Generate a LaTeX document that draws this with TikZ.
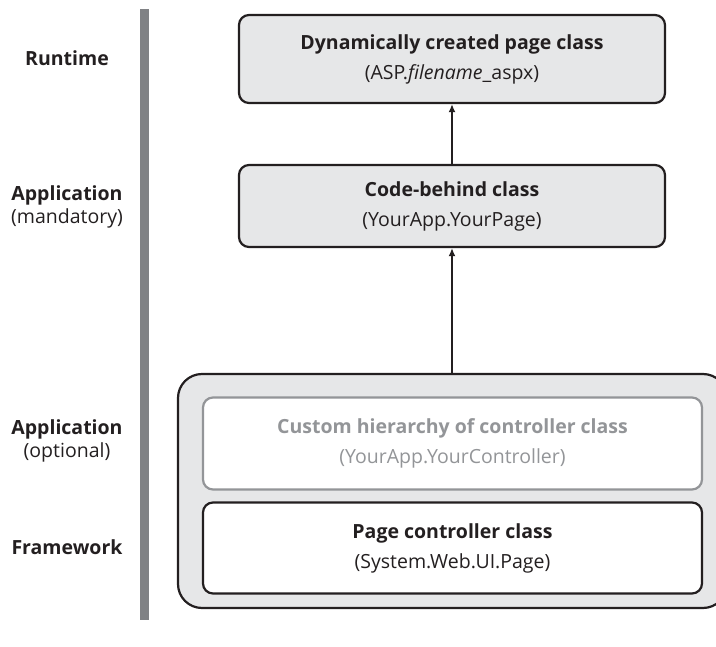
\documentclass[tikz,border=0pt]{standalone}
\usepackage{fontspec}
\setmainfont{Open Sans}
\usetikzlibrary{arrows.meta}
\definecolor{boxgray}{HTML}{E6E7E8}
\definecolor{bargray}{HTML}{808285}
\definecolor{softgray}{HTML}{939598}
\definecolor{ink}{HTML}{231F20}
\tikzset{
  classbox/.style={draw=ink, line width=2.2pt, rounded corners=10pt, inner sep=0pt,
    align=center, text=ink, font=\fontsize{19.5}{30}\selectfont},
  layerlabel/.style={align=center, text=ink, font=\fontsize{19.5}{23}\selectfont},
  inherit/.style={draw=ink, line width=2pt, -{Latex[length=8pt,width=7pt]}}
}
\begin{document}
\begin{tikzpicture}[scale=1.000000,x=1pt,y=-1pt]
\useasboundingbox (0,0) rectangle (716,647);
\clip (0,0) rectangle (716,647);
% Drawing the layer bar and labels
\fill[bargray] (140,9) rectangle (149,620);
\node[layerlabel] (lblruntime) at (67,58) {\textbf{Runtime}};
\node[layerlabel] (lblmandatory) at (67,207) {\textbf{Application}\\(mandatory)};
\node[layerlabel] (lbloptional) at (67,441) {\textbf{Application}\\(optional)};
\node[layerlabel] (lblframework) at (67,547) {\textbf{Framework}};
% Done with labels; drawing class boxes
\node[classbox, fill=boxgray, rounded corners=24pt, minimum width=549pt, minimum height=234pt] (container) at (452.5,491) {};
\node[classbox, fill=white, draw=softgray, text=softgray, minimum width=499pt, minimum height=92pt] (custom) at (452.5,443.5) {\textbf{Custom hierarchy of controller class}\\(YourApp.YourController)};
\node[classbox, fill=white, minimum width=499pt, minimum height=91pt] (pagectrl) at (452.5,548) {\textbf{Page controller class}\\(System.Web.UI.Page)};
\node[classbox, fill=boxgray, minimum width=426pt, minimum height=82pt] (codebehind) at (452,206) {\textbf{Code-behind class}\\(YourApp.YourPage)};
\node[classbox, fill=boxgray, minimum width=426pt, minimum height=88pt] (runtime) at (452,59) {\textbf{Dynamically created page class}\\(ASP.\textit{filename}\_aspx)};
% Done with boxes; drawing arrows
\draw[inherit] (container.north -| codebehind.south) -- (codebehind.south);
\draw[inherit] (codebehind.north) -- (runtime.south);
\end{tikzpicture}
\end{document}
